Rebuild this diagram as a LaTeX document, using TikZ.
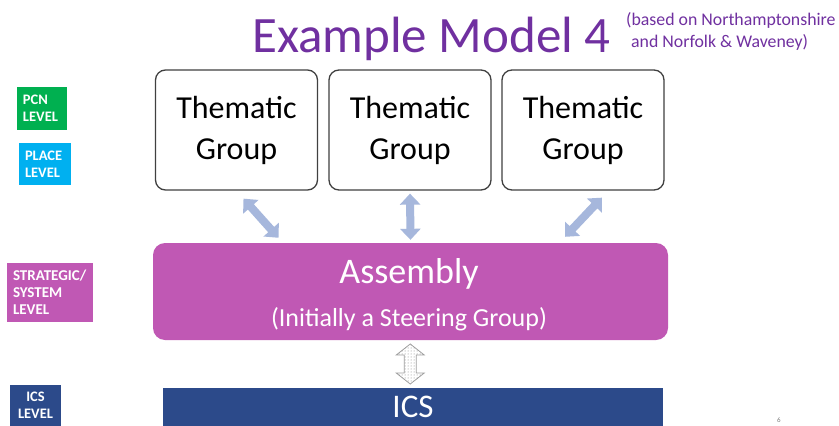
\documentclass[tikz,border=0pt]{standalone}
\usepackage{fontspec}
\setmainfont{Carlito}
\usepackage{tikz}
\usetikzlibrary{arrows.meta,patterns,calc}

\definecolor{titlepurple}{RGB}{112,48,160}
\definecolor{pcngreen}{RGB}{0,176,80}
\definecolor{placeblue}{RGB}{0,176,240}
\definecolor{asmmagenta}{RGB}{192,88,180}
\definecolor{icsnavy}{RGB}{44,74,138}
\definecolor{linkblue}{RGB}{166,183,220}
\definecolor{edgegray}{RGB}{64,64,64}

\begin{document}
\begin{tikzpicture}[x=1pt, y=-1pt,
  levelbox/.style={fill=#1, text=white, inner xsep=6pt, inner ysep=0pt, align=left,
    font=\fontsize{14.5}{17}\selectfont\bfseries},
  thematic/.style={draw=edgegray, line width=1.3pt, rounded corners=10pt, fill=white,
    minimum width=162, minimum height=120, align=center, font=\fontsize{32}{41}\selectfont},
  linkarrow/.style={linkblue, line width=8pt,
    {Triangle[width=20pt,length=11pt]}-{Triangle[width=20pt,length=11pt]}},
  subtitle/.style={anchor=base west, text=titlepurple, font=\fontsize{17.8}{20}\selectfont, inner sep=0pt}
]
  \clip (0,0) rectangle (839,426);
  \fill[white] (0,0) rectangle (839,426);

  % title
  \node[anchor=base, text=titlepurple, font=\fontsize{51}{60}\selectfont] (title) at (431.5,52) {Example Model 4};
  \node[subtitle] (sub1) at (626,25) {(based on Northamptonshire};
  \node[subtitle] (sub2) at (631,47) {and Norfolk \& Waveney)};

  % levels
  \node[levelbox=pcngreen, minimum width=50, minimum height=43, text width=38] (pcn) at (42,108.5) {PCN\\LEVEL};
  \node[levelbox=placeblue, minimum width=52, minimum height=42, text width=40] (place) at (45,164) {PLACE\\LEVEL};
  \node[levelbox=asmmagenta, minimum width=86, minimum height=59, text width=74,
    font=\fontsize{15}{17}\selectfont\bfseries] (strat) at (50,292.5) {STRATEGIC/\\SYSTEM\\LEVEL};
  \node[levelbox=icsnavy, minimum width=51, minimum height=41, text width=39, align=center] (icslevel) at (35.5,405.5) {ICS\\LEVEL};

  % groups
  \node[thematic] (t1) at (236.5,130) {Thematic\\Group};
  \node[thematic] (t2) at (410,130) {Thematic\\Group};
  \node[thematic] (t3) at (583,130) {Thematic\\Group};

  % assembly
  \node[fill=asmmagenta, rounded corners=12pt, minimum width=515, minimum height=97] (asm) at (410.5,291.5) {};
  \node[anchor=base, text=white, font=\fontsize{36}{40}\selectfont] (asmname) at (409,283) {Assembly};
  \node[anchor=base, text=white, font=\fontsize{26}{30}\selectfont] (asmnote) at (409,326) {(Initially a Steering Group)};

  % ics
  \node[fill=icsnavy, minimum width=500, minimum height=38, inner sep=0pt, text=white,
    font=\fontsize{33}{36}\selectfont] (ics) at (413,407) {ICS};

  \draw[linkarrow] ([shift={(7,8)}]t1.south) -- ([shift={(-132,-5)}]asm.north);
  \draw[linkarrow] ([shift={(0,3)}]t2.south) -- ([shift={(0,-3)}]asm.north);
  \draw[linkarrow] ([shift={(19,7)}]t3.south) -- ([shift={(154.5,-6)}]asm.north);

  % dotted link between assembly and ics
  \coordinate (link) at ($(asm.south)!0.5!(ics.north)+(-1.5,0)$);
  \filldraw[draw=gray!75, line width=0.8pt, fill=white, shift={(link)}]
    (0,-20) -- (14,-9) -- (6,-9) -- (6,9) -- (14,9) -- (0,20) -- (-14,9) -- (-6,9) -- (-6,-9) -- (-14,-9) -- cycle;
  \fill[pattern=dots, pattern color=gray, shift={(link)}]
    (0,-20) -- (14,-9) -- (6,-9) -- (6,9) -- (14,9) -- (0,20) -- (-14,9) -- (-6,9) -- (-6,-9) -- (-14,-9) -- cycle;

  \node[text=gray, font=\fontsize{7}{8}\selectfont] (page) at (779,420) {6};
\end{tikzpicture}
\end{document}
